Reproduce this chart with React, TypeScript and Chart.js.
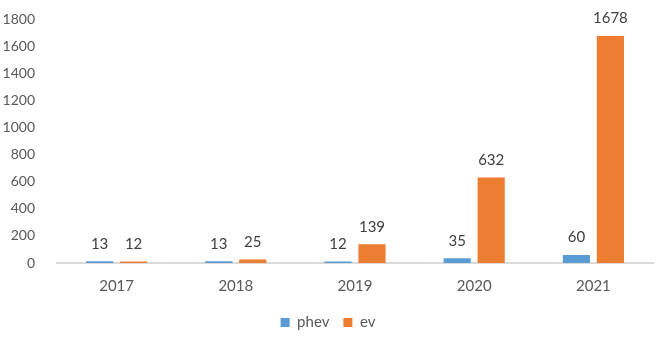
import React, { useEffect, useRef } from "react";
import { Chart, registerables } from "chart.js";

Chart.register(...registerables);

const categories = ["2017", "2018", "2019", "2020", "2021"];
const phev = [13, 13, 12, 35, 60];
const ev = [12, 25, 139, 632, 1678];
const yTicks = [0, 200, 400, 600, 800, 1000, 1200, 1400, 1600, 1800];

const FONT = "Lato, 'Open Sans', sans-serif";

const labelPlugin = {
  id: "valueLabels",
  afterDatasetsDraw(chart: any) {
    const ctx = chart.ctx;
    ctx.save();
    ctx.font = `15px ${FONT}`;
    ctx.fillStyle = "#404040";
    ctx.textAlign = "center";
    ctx.textBaseline = "bottom";
    chart.data.datasets.forEach((ds: any, i: number) => {
      const meta = chart.getDatasetMeta(i);
      meta.data.forEach((bar: any, j: number) => {
        ctx.fillText(String(ds.data[j]), bar.x, bar.y - 10);
      });
    });
    ctx.restore();
  },
};

export default function App() {
  const ref = useRef<HTMLCanvasElement>(null);
  useEffect(() => {
    document.body.style.margin = "0";
    document.body.style.overflow = "hidden";
    const chart = new Chart(ref.current!, {
      type: "bar",
      data: {
        labels: categories,
        datasets: [
          { label: "phev", data: phev, backgroundColor: "#5b9bd5", categoryPercentage: 0.57, barPercentage: 0.8 },
          { label: "ev", data: ev, backgroundColor: "#ed7d31", categoryPercentage: 0.57, barPercentage: 0.8 },
        ],
      },
      options: {
        animation: false,
        responsive: false,
        layout: { padding: { top: 0, right: 8, left: 3, bottom: 9 } },
        plugins: {
          legend: {
            position: "bottom",
            labels: { boxWidth: 9, boxHeight: 9, font: { size: 15, family: FONT }, color: "#595959", padding: 14 },
          },
          tooltip: { enabled: false },
        },
        scales: {
          x: {
            grid: { display: false },
            border: { display: true, color: "#d9d9d9", width: 2 },
            ticks: { font: { size: 15, family: FONT }, color: "#595959", padding: 6 },
          },
          y: {
            min: 0,
            max: 1800,
            grid: { display: false },
            border: { display: false },
            afterBuildTicks: (axis: any) => {
              axis.ticks = yTicks.map((v) => ({ value: v }));
            },
            afterFit: (axis: any) => {
              axis.width = 54;
            },
            ticks: {
              font: { size: 14, family: FONT },
              color: "#595959",
              padding: 14,
              callback: (v: any) => String(v),
            },
          },
        },
      },
      plugins: [labelPlugin],
    });
    return () => chart.destroy();
  }, []);
  return <canvas ref={ref} width={661} height={352} style={{ display: "block", marginTop: -3 }} />;
}
